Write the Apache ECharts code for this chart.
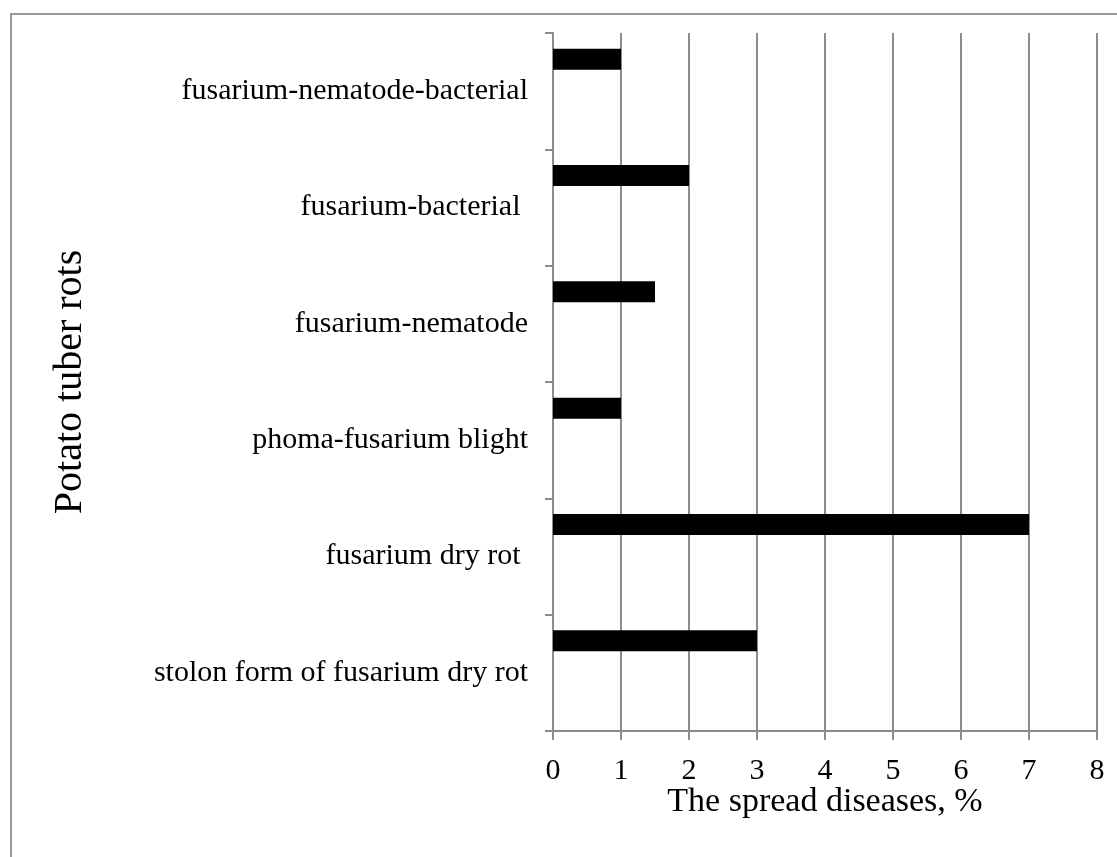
<!DOCTYPE html>
<html>
<head>
<meta charset="utf-8">
<script src="https://cdn.jsdelivr.net/npm/echarts@6/dist/echarts.min.js"></script>
<style>
  html, body { margin: 0; padding: 0; background: #fff; }
  #chart { width: 1117px; height: 857px; }
</style>
</head>
<body>
<div id="chart"></div>
<script>
// Categories listed bottom to top
const categories = [
  'stolon form of fusarium dry rot',
  'fusarium dry rot ',
  'phoma-fusarium blight',
  'fusarium-nematode',
  'fusarium-bacterial ',
  'fusarium-nematode-bacterial'
];
const spreadValues = [3, 7, 1, 1.5, 2, 1];
const emptyValues = [null, null, null, null, null, null];
const xTicks = [0, 1, 2, 3, 4, 5, 6, 7, 8];

const FONT = "'Liberation Serif', 'Times New Roman', serif";
const GRAY = '#8c8c8c';

const chart = echarts.init(document.getElementById('chart'), null, { renderer: 'canvas' });

chart.setOption({
  backgroundColor: '#ffffff',
  animation: false,
  grid: { left: 553, right: 20, top: 33, bottom: 126, containLabel: false },
  xAxis: {
    type: 'value',
    min: xTicks[0],
    max: xTicks[xTicks.length - 1],
    interval: 1,
    name: 'The spread diseases, %',
    nameLocation: 'middle',
    nameGap: 54,
    nameMoveOverlap: false,
    nameTextStyle: { fontFamily: FONT, fontSize: 34, color: '#000' },
    axisLine: { show: true, lineStyle: { color: GRAY, width: 2 } },
    axisTick: { show: true, length: 9, lineStyle: { color: GRAY, width: 2 } },
    axisLabel: { fontFamily: FONT, fontSize: 30, color: '#000', margin: 25 },
    splitLine: { show: true, lineStyle: { color: GRAY, width: 2 } }
  },
  yAxis: {
    type: 'category',
    data: categories,
    name: 'Potato tuber rots',
    nameLocation: 'middle',
    nameRotate: 90,
    nameGap: 463,
    nameTextStyle: { fontFamily: FONT, fontSize: 40, color: '#000' },
    axisLine: { show: true, lineStyle: { color: GRAY, width: 2 } },
    axisTick: { show: true, length: 8, lineStyle: { color: GRAY, width: 2 } },
    axisLabel: { fontFamily: FONT, fontSize: 30, color: '#000', margin: 25 },
    splitLine: { show: false }
  },
  series: [
    {
      type: 'bar',
      data: spreadValues,
      barWidth: 21,
      barGap: '205%',
      itemStyle: { color: '#000' }
    },
    {
      type: 'bar',
      data: emptyValues,
      barWidth: 21,
      itemStyle: { color: '#000' }
    }
  ],
  graphic: [
    {
      type: 'polyline',
      shape: { points: [[11, 857], [11, 14], [1117, 14]] },
      style: { stroke: '#999', lineWidth: 2, fill: null },
      silent: true
    }
  ]
});
</script>
</body>
</html>
